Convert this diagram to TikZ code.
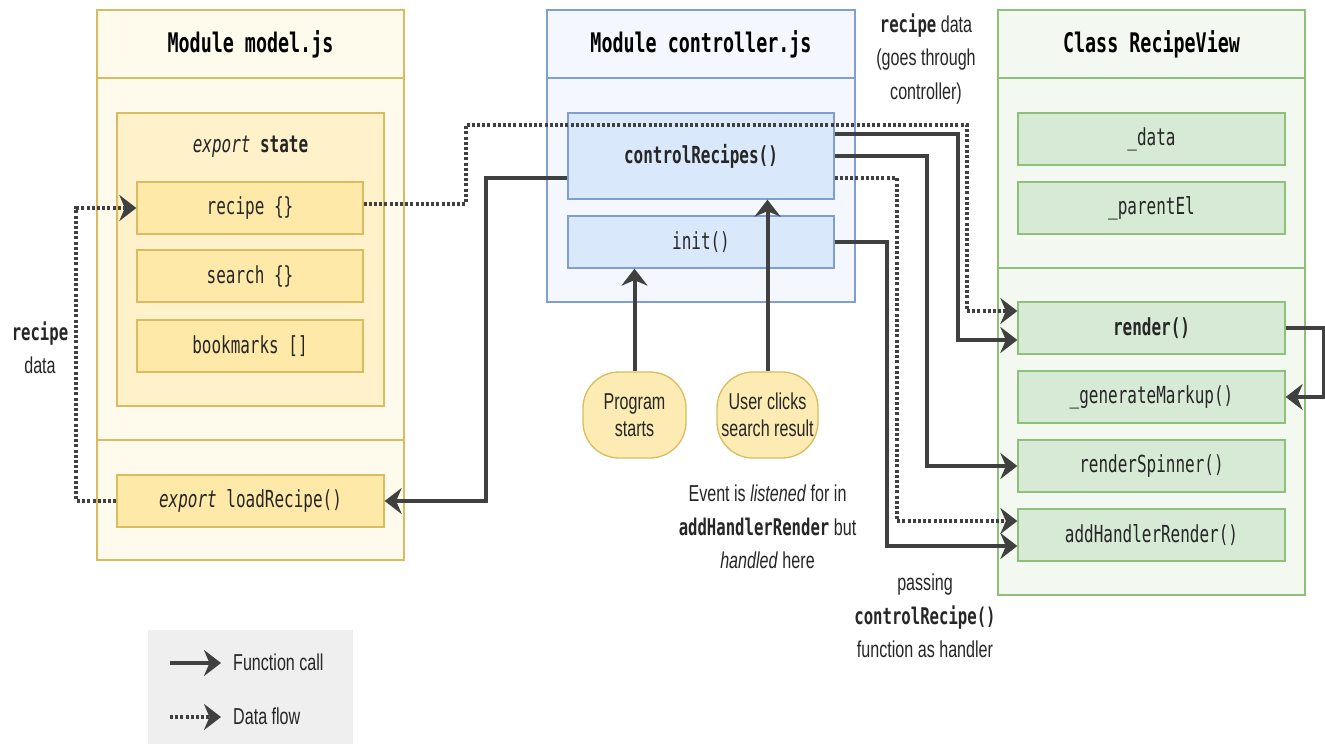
\documentclass[tikz,border=0pt]{standalone}
\usepackage{fontspec}
\setmainfont[FakeStretch=0.7]{Liberation Sans}
\setmonofont[FakeStretch=0.68]{DejaVu Sans Mono}
\usetikzlibrary{arrows.meta,calc}
\definecolor{ybd}{HTML}{D9BC5F}
\definecolor{yout}{HTML}{FFFBEC}
\definecolor{ymid}{HTML}{FFF1CA}
\definecolor{yin}{HTML}{FFE9A8}
\definecolor{yell}{HTML}{FCEBB2}
\definecolor{bbd}{HTML}{7E9FD0}
\definecolor{bout}{HTML}{F4F8FE}
\definecolor{bin}{HTML}{DAE8FC}
\definecolor{gbd}{HTML}{8FC07A}
\definecolor{gout}{HTML}{F3F9F0}
\definecolor{gin}{HTML}{D7EAD5}
\definecolor{arr}{HTML}{404040}
\definecolor{txt}{HTML}{262626}
\definecolor{legbg}{HTML}{EFEFEF}
\newcommand\fitem{\ttfamily\fontsize{23.5}{28}\selectfont}
\newcommand\ftitle{\ttfamily\bfseries\fontsize{27}{32}\selectfont}
\newcommand\flabel{\fontsize{23}{33.5}\selectfont}
\newcommand\fell{\fontsize{23}{27.5}\selectfont}
\tikzset{
  bx/.style={draw, line width=1.3pt, inner sep=0pt, text=txt},
  ybox/.style={bx, draw=ybd, fill=yin, font=\fitem},
  bbox/.style={bx, draw=bbd, fill=bin, font=\fitem},
  gbox/.style={bx, draw=gbd, fill=gin, font=\fitem},
  tip/.style={-{Stealth[length=17pt,width=26pt,inset=5.5pt]}},
  call/.style={draw=arr, line width=4pt, tip},
  flow/.style={draw=arr, line width=4pt, dash pattern=on 3pt off 2.2pt, tip},
  lbl/.style={text=txt, font=\flabel, align=center, inner sep=0pt},
  ell/.style={bx, draw=ybd, fill=yell, rounded corners=36pt, font=\fell, align=center, minimum width=103pt, minimum height=86pt}
}
\begin{document}
\begin{tikzpicture}[x=1pt,y=-1pt]
\useasboundingbox (0,0) rectangle (1325,744);
% ---------- model.js ----------
\node[bx, draw=ybd, fill=yout, minimum width=307pt, minimum height=68pt, font=\ftitle, text=black] (mh) at (250.5,44) {Module model.js};
\node[bx, draw=ybd, fill=yout, minimum width=307pt, minimum height=362pt] (mb) at (250.5,259) {};
\node[bx, draw=ybd, fill=yout, minimum width=307pt, minimum height=120pt] (mb2) at (250.5,500) {};
\node[bx, draw=ybd, fill=ymid, minimum width=267pt, minimum height=293pt] (st) at (250.5,259.5) {};
\node[text=txt, font=\fitem, inner sep=0pt] (stt) at (250.5,147) {\textit{export} \textbf{state}};
\node[ybox, minimum width=226pt, minimum height=52pt] (rec) at (250,208) {recipe \{\}};
\node[ybox, minimum width=226pt, minimum height=52pt] (sea) at (250,276) {search \{\}};
\node[ybox, minimum width=226pt, minimum height=52pt] (bkm) at (250,346) {bookmarks []};
\node[ybox, minimum width=267pt, minimum height=52pt] (lr) at (250.5,501) {\textit{export} loadRecipe()};
% ---------- controller.js ----------
\node[bx, draw=bbd, fill=bout, minimum width=308pt, minimum height=68pt, font=\ftitle, text=black] (ch) at (701,44) {Module controller.js};
\node[bx, draw=bbd, fill=bout, minimum width=308pt, minimum height=224pt] (cb) at (701,190) {};
\node[bbox, minimum width=266pt, minimum height=86pt, font=\fitem\bfseries] (cr) at (701,156) {controlRecipes()};
\node[bbox, minimum width=266pt, minimum height=52pt] (init) at (701,242) {init()};
% ---------- RecipeView ----------
\node[bx, draw=gbd, fill=gout, minimum width=307pt, minimum height=68pt, font=\ftitle, text=black] (rh) at (1151.5,44) {Class RecipeView};
\node[bx, draw=gbd, fill=gout, minimum width=307pt, minimum height=190pt] (rb1) at (1151.5,173) {};
\node[bx, draw=gbd, fill=gout, minimum width=307pt, minimum height=327pt] (rb2) at (1151.5,431.5) {};
\node[gbox, minimum width=267pt, minimum height=52pt] (dat) at (1151.5,139) {\_data};
\node[gbox, minimum width=267pt, minimum height=52pt] (par) at (1151.5,208) {\_parentEl};
\node[gbox, minimum width=267pt, minimum height=52pt, font=\fitem\bfseries] (ren) at (1151.5,328) {render()};
\node[gbox, minimum width=267pt, minimum height=52pt] (gm) at (1151.5,397) {\_generateMarkup()};
\node[gbox, minimum width=267pt, minimum height=52pt] (rs) at (1151.5,466) {renderSpinner()};
\node[gbox, minimum width=267pt, minimum height=52pt] (ah) at (1151.5,535) {addHandlerRender()};
% ---------- events ----------
\node[ell] (ps) at (634.5,415) {Program\\starts};
\node[ell, minimum width=101pt] (uc) at (767.5,415) {User clicks\\search result};
% ---------- labels ----------
\node[lbl] (l1) at (40,348) {\texttt{\textbf{recipe}}\\data};
\node[lbl] (l2) at (926,59) {\texttt{\textbf{recipe}} data\\(goes through\\controller)};
\node[lbl] (l3) at (767.5,527) {Event is \textit{listened} for in\\\texttt{\textbf{addHandlerRender}} but\\\textit{handled} here};
\node[lbl] (l4) at (925,616) {passing\\\texttt{\textbf{controlRecipe()}}\\function as handler};
% ---------- legend ----------
\node[inner sep=0pt, fill=legbg, minimum width=205pt, minimum height=114pt] (leg) at (250.5,687) {};
\coordinate (la1) at (170,663);
\coordinate (la2) at (221,663);
\coordinate (lb1) at (170,717);
\coordinate (lb2) at (221,717);
\node[lbl, anchor=west] (lt1) at (233,662) {Function call};
\node[lbl, anchor=west] (lt2) at (233,716) {Data flow};
\draw[call] (la1) -- (la2);
\draw[flow] (lb1) -- (lb2);
% ---------- connectors ----------
\draw[call] (ps.north) -- (ps.north |- init.south);
\draw[call] (uc.north) -- (uc.north |- cr.south);
\draw[call] ($(cr.west)+(0,22)$) -- ++(-81,0) |- (lr.east);
\draw[flow] (lr.west) -- ++(-40,0) |- (rec.west);
\draw[flow] ($(rec.east)+(0,-4)$) -- ++(102,0) |- (967,125) |- ($(ren.west)+(0,-17)$);
\draw[call] ($(cr.east)+(0,-22)$) -- ++(123,0) |- ($(ren.west)+(0,12)$);
\draw[call] (cr.east) -- ++(92,0) |- (rs.west);
\draw[flow] ($(cr.east)+(0,22)$) -- ++(62,0) |- ($(ah.west)+(0,-14)$);
\draw[call] (init.east) -- ++(52,0) |- ($(ah.west)+(0,11)$);
\draw[call] (ren.east) -- ++(38,0) |- (gm.east);
\end{tikzpicture}
\end{document}
